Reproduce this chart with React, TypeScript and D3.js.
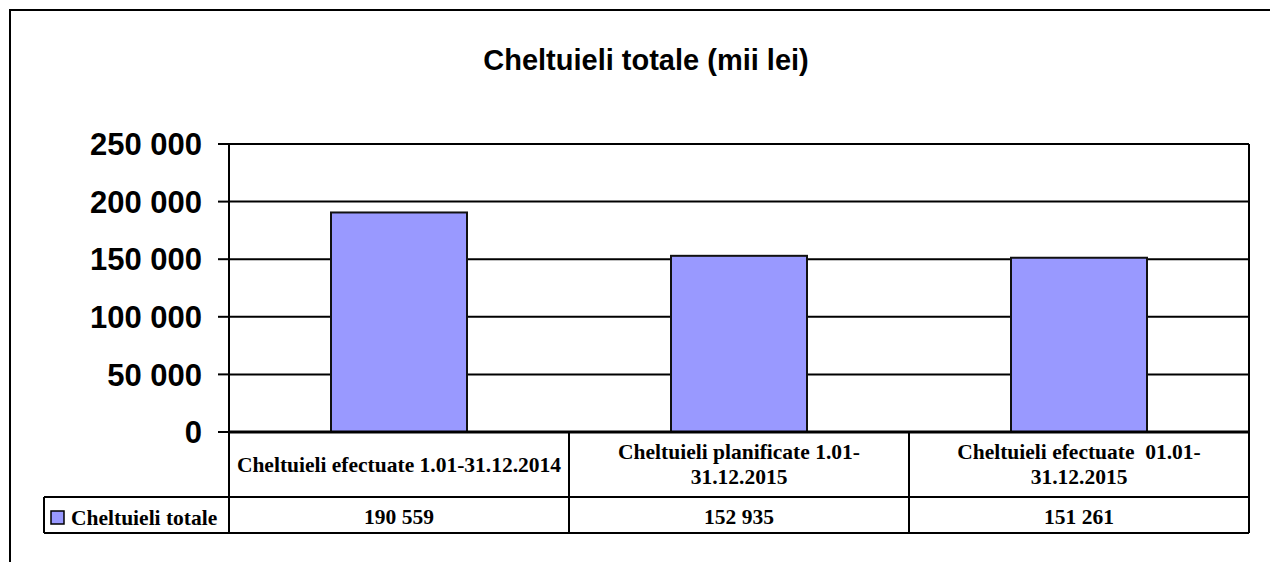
import React, { useEffect, useRef } from "react";
import * as d3 from "d3";

const title = "Cheltuieli totale (mii lei)";
const categories = [
  "Cheltuieli efectuate 1.01-31.12.2014",
  "Cheltuieli planificate 1.01-31.12.2015",
  "Cheltuieli efectuate  01.01-31.12.2015",
];
const seriesName = "Cheltuieli totale";
const values = [190559, 152935, 151261];
const yTicks = [0, 50000, 100000, 150000, 200000, 250000];

const W = 1270;
const H = 562;

export default function App() {
  const ref = useRef<SVGSVGElement>(null);

  useEffect(() => {
    const svg = d3.select(ref.current);
    svg.selectAll("*").remove();

    const left = 229, right = 1249, top = 144, zeroY = 432;
    const row1 = 497, row2 = 533;
    const legendLeft = 44;

    const fmt = (v: number) => d3.format(",")(v).replace(/,/g, " ");

    const y = d3.scaleLinear().domain([0, 250000]).range([zeroY, top]);
    const x = d3.scaleBand<string>().domain(categories).range([left, right]).paddingInner(0.6).paddingOuter(0.3);
    const step = x.step();
    const colStart = (c: string) => (x(c) as number) - x.paddingOuter() * step;

    // outer border
    svg.append("rect").attr("x", 10).attr("y", 10).attr("width", W).attr("height", H)
      .attr("fill", "none").attr("stroke", "#000").attr("stroke-width", 2);

    // title
    svg.append("text").attr("x", 646).attr("y", 70).attr("text-anchor", "middle")
      .attr("font-family", "Liberation Sans, Arial, sans-serif").attr("font-weight", "bold")
      .attr("font-size", 29).text(title);

    // gridlines
    svg.append("g").selectAll("line").data(yTicks.filter(t => t > 0)).join("line")
      .attr("x1", left).attr("x2", right).attr("y1", d => y(d)).attr("y2", d => y(d))
      .attr("stroke", "#000").attr("stroke-width", 2);

    // bars
    svg.append("g").selectAll("rect").data(values).join("rect")
      .attr("x", (_, i) => x(categories[i]) as number)
      .attr("y", d => y(d))
      .attr("width", x.bandwidth())
      .attr("height", d => zeroY - y(d))
      .attr("fill", "#9999FF").attr("stroke", "#111").attr("stroke-width", 2);

    // y ticks and labels
    const ya = svg.append("g");
    ya.selectAll("line").data(yTicks).join("line")
      .attr("x1", 218).attr("x2", left).attr("y1", d => y(d)).attr("y2", d => y(d))
      .attr("stroke", "#000").attr("stroke-width", 2);
    ya.selectAll("text").data(yTicks).join("text")
      .attr("x", 202).attr("y", d => y(d)).attr("dy", "0.36em").attr("text-anchor", "end")
      .attr("font-family", "Liberation Sans, Arial, sans-serif").attr("font-weight", "bold")
      .attr("font-size", 31).text(d => fmt(d));

    // plot frame verticals
    svg.append("line").attr("x1", left).attr("x2", left).attr("y1", top).attr("y2", row2)
      .attr("stroke", "#000").attr("stroke-width", 2);
    svg.append("line").attr("x1", right).attr("x2", right).attr("y1", top).attr("y2", row2)
      .attr("stroke", "#000").attr("stroke-width", 2);

    // table lines
    const tl = svg.append("g").attr("stroke", "#000").attr("stroke-width", 2);
    tl.append("line").attr("x1", left).attr("x2", right).attr("y1", zeroY).attr("y2", zeroY).attr("stroke-width", 3);
    tl.append("line").attr("x1", legendLeft).attr("x2", right).attr("y1", row1).attr("y2", row1);
    tl.append("line").attr("x1", legendLeft).attr("x2", right).attr("y1", row2).attr("y2", row2);
    tl.append("line").attr("x1", legendLeft).attr("x2", legendLeft).attr("y1", row1).attr("y2", row2);
    tl.selectAll("line.col").data(categories.slice(1)).join("line").attr("class", "col")
      .attr("x1", d => colStart(d)).attr("x2", d => colStart(d)).attr("y1", zeroY).attr("y2", row2);

    // category labels with wrapping
    const serif = "Liberation Serif, 'Times New Roman', serif";
    const fs = 21.5;
    const maxW = step - 10;
    categories.forEach((c) => {
      const cx = colStart(c) + step / 2;
      const t = svg.append("text").attr("text-anchor", "middle").attr("font-family", serif)
        .attr("font-weight", "bold").attr("font-size", fs).style("white-space", "pre");
      const tokens = c.match(/[^\s-]+-?\s*|\s+/g) || [c];
      const lines: string[] = [];
      let cur = "";
      const probe = t.append("tspan");
      tokens.forEach(tok => {
        const test = cur + tok;
        probe.text(test.trimEnd());
        const w = (probe.node() as SVGTSpanElement).getComputedTextLength();
        if (w > maxW && cur !== "") {
          lines.push(cur.trimEnd());
          cur = tok;
        } else cur = test;
      });
      if (cur) lines.push(cur.trimEnd());
      probe.remove();
      const lh = 25;
      const midY = (zeroY + row1) / 2;
      const firstBase = midY + 7 - ((lines.length - 1) * lh) / 2;
      lines.forEach((ln, i) => {
        t.append("tspan").attr("x", cx).attr("y", firstBase + i * lh).text(ln);
      });
    });

    // data row values
    svg.append("g").selectAll("text").data(values).join("text")
      .attr("x", (_, i) => colStart(categories[i]) + step / 2).attr("y", 524)
      .attr("text-anchor", "middle").attr("font-family", serif).attr("font-weight", "bold")
      .attr("font-size", fs).text(d => fmt(d));

    // legend key
    svg.append("rect").attr("x", 51).attr("y", 511).attr("width", 13).attr("height", 13)
      .attr("fill", "#9999FF").attr("stroke", "#000").attr("stroke-width", 1.5);
    svg.append("text").attr("x", 71).attr("y", 525).attr("font-family", serif)
      .attr("font-weight", "bold").attr("font-size", fs).text(seriesName);
  }, []);

  return (
    <svg ref={ref} width={W} height={H} style={{ position: "absolute", left: 0, top: 0, background: "#fff" }} />
  );
}
